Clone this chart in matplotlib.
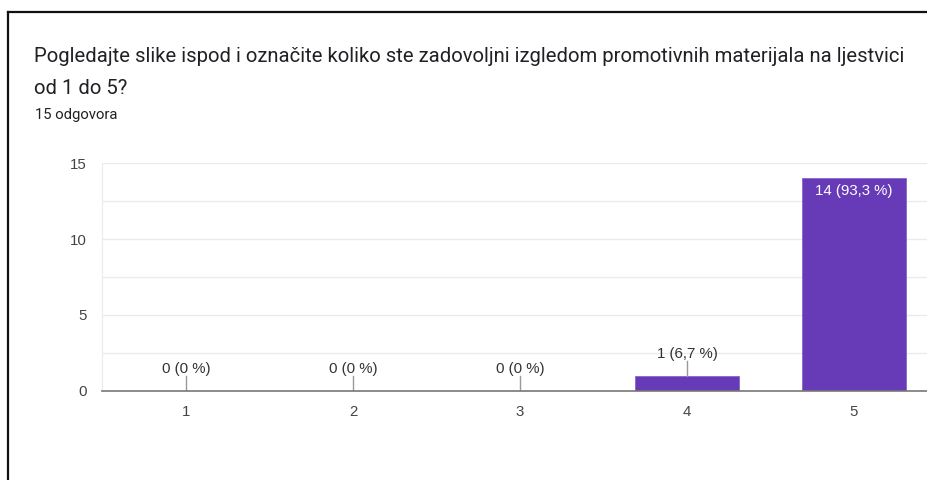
import matplotlib.pyplot as plt
from matplotlib.lines import Line2D

# Survey responses (scale 1-5)
categories = ["1", "2", "3", "4", "5"]
counts = [0, 0, 0, 1, 14]
percent_labels = ["0 %", "0 %", "0 %", "6,7 %", "93,3 %"]
total_responses = 15

title_lines = [
    "Pogledajte slike ispod i označite koliko ste zadovoljni izgledom "
    "promotivnih materijala na ljestvici",
    "od 1 do 5?",
]
subtitle = f"{total_responses} odgovora"

W, H = 928, 480
purple = "#673ab7"
plt.rcParams["font.family"] = ["Roboto", "DejaVu Sans"]
chart_font = ["Liberation Sans", "DejaVu Sans"]

fig = plt.figure(figsize=(W / 100, H / 100), dpi=100)

# frame around the card (top and left edges visible)
fig.add_artist(Line2D([7.5 / W, 1], [1 - 12 / H, 1 - 12 / H], color="#111111", lw=1.6))
fig.add_artist(Line2D([7.5 / W, 7.5 / W], [0, 1 - 12 / H], color="#111111", lw=1.6))

for line, ypix in zip(title_lines, [57, 88]):
    fig.text(34 / W, 1 - ypix / H, line, fontsize=14.6, color="#202124", va="center")
fig.text(35 / W, 1 - 115 / H, subtitle, fontsize=10.7, color="#202124", va="center")

# plot area in pixels
left, right = 102.5, W
y0, y15 = 390.7, 163.3
step = 167.0
ax = fig.add_axes([left / W, (H - y0) / H, (right - left) / W, (y0 - y15) / H])

x = list(range(1, len(categories) + 1))
ax.bar(x, counts, width=0.62, color=purple, edgecolor="#8a63cc", linewidth=0.6, zorder=3)

ax.set_xlim(0.5, 0.5 + (right - left) / step)
ax.set_ylim(0, 15)
ax.set_yticks([0, 5, 10, 15])
ax.set_yticks([2.5, 7.5, 12.5], minor=True)
ax.set_xticks(x)
ax.set_xticklabels(categories)
ax.grid(axis="y", which="both", color="#ebebeb", lw=1, zorder=0)
ax.tick_params(axis="both", which="both", length=0, labelsize=10.8, colors="#444444")
ax.tick_params(axis="y", pad=11.2)
ax.tick_params(axis="x", pad=10)
for lbl in ax.get_xticklabels() + ax.get_yticklabels():
    lbl.set_family(chart_font)
for side in ["top", "right"]:
    ax.spines[side].set_visible(False)
ax.spines["left"].set_color("#ebebeb")
ax.spines["bottom"].set_color("#777777")
ax.spines["bottom"].set_linewidth(1.2)
ax.spines["bottom"].set_zorder(4)

px = 15.0 / (y0 - y15)  # data units per pixel
for xi, c, p in zip(x, counts, percent_labels):
    text = f"{c} ({p})"
    if c >= 10:
        ax.text(xi, c - 12.5 * px, text, ha="center", va="center", family=chart_font,
                color="white", fontsize=10.8, zorder=5)
    else:
        ax.plot([xi, xi], [c, c + 15 * px], color="#999999", lw=1, zorder=4)
        ax.text(xi, c + 22 * px, text, ha="center", va="center", family=chart_font,
                color="#333333", fontsize=10.8, zorder=5)

fig.savefig("out.png", dpi=100)
